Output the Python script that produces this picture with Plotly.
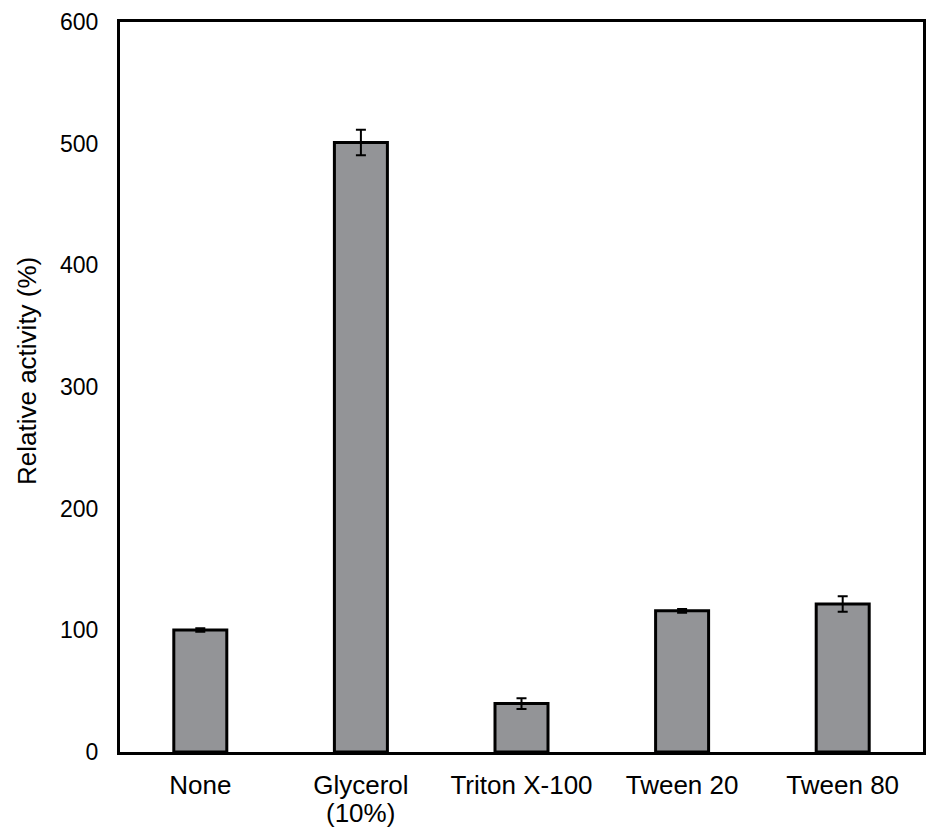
import plotly.graph_objects as go

categories = ["None", "Glycerol", "Triton X-100", "Tween 20", "Tween 80"]
sublabels = ["", "(10%)", "", "", ""]
activity = [100.3, 501.0, 39.8, 116.0, 121.6]
errors = [1.5, 10.5, 4.4, 1.5, 6.4]
y_ticks = [0, 100, 200, 300, 400, 500, 600]
y_title = "Relative activity (%)"

fig = go.Figure()
fig.add_trace(go.Bar(
    x=categories,
    y=activity,
    width=0.33,
    marker=dict(color="#939497", line=dict(color="black", width=3)),
    error_y=dict(type="data", array=errors, visible=True, color="black", thickness=2, width=5),
))

font_family = "Liberation Sans, Arial, sans-serif"
for cat, sub in zip(categories, sublabels):
    if sub:
        fig.add_annotation(
            x=cat, xref="x", y=0, yref="paper", yanchor="top",
            yshift=-44, text=sub, showarrow=False,
            font=dict(size=26, color="black", family=font_family),
        )

fig.add_annotation(
    x=0, xref="paper", y=0.5, yref="paper", xanchor="center", yanchor="middle",
    xshift=-93, yshift=16, text=y_title, textangle=-90, showarrow=False,
    font=dict(size=26, color="black", family=font_family),
)

fig.update_layout(
    width=927,
    height=829,
    margin=dict(l=120, r=1, t=22, b=77),
    paper_bgcolor="white",
    plot_bgcolor="white",
    showlegend=False,
    font=dict(family=font_family, color="black"),
)
fig.update_xaxes(
    showline=True, linecolor="black", linewidth=3, mirror=True,
    ticks="", showgrid=False, tickfont=dict(size=26, color="black"),
    ticklabelstandoff=8,
)
fig.update_yaxes(
    range=[0, 600], tickvals=y_ticks, ticktext=[str(v) for v in y_ticks],
    showline=True, linecolor="black", linewidth=3, mirror=True,
    ticks="", showgrid=False, zeroline=False, tickfont=dict(size=23, color="black"),
    ticklabelstandoff=14,
)

fig.write_html(
    "out.html",
    config={"displayModeBar": False},
    post_script="document.body.style.margin='0px';document.body.style.overflow='hidden';",
)
